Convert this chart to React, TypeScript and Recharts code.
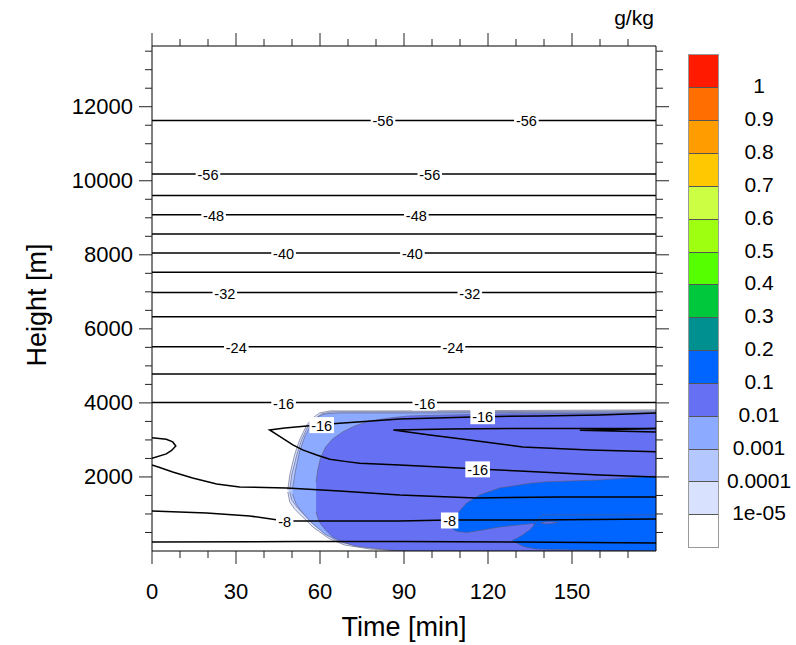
import React from "react";
import { ComposedChart, XAxis, YAxis, Area, Line, Scatter } from "recharts";

// axes
const TIME_TICKS = [0, 10, 20, 30, 40, 50, 60, 70, 80, 90, 100, 110, 120, 130, 140, 150, 160, 170];
const HEIGHT_TICKS = [500, 1000, 1500, 2000, 2500, 3000, 3500, 4000, 4500, 5000, 5500, 6000, 6500, 7000,
  7500, 8000, 8500, 9000, 9500, 10000, 10500, 11000, 11500, 12000, 12500, 13000, 13500];

// colour bar (top to bottom)
const LEVEL_COLORS = ["#ff1a00", "#ff6e00", "#ff9c00", "#ffc800", "#ccff44", "#9eff10", "#55ff00", "#00c83c",
  "#009090", "#0064ff", "#6670f2", "#8caaff", "#b4c8ff", "#d8e2ff", "#ffffff"];
const LEVEL_LABELS = ["1", "0.9", "0.8", "0.7", "0.6", "0.5", "0.4", "0.3", "0.2", "0.1", "0.01", "0.001", "0.0001", "1e-05"];

// mixing ratio fill regions: [time, lower height, upper height]
const fill1e5 = [[48.5, 1595, 1649], [49.2, 1324, 2054], [50.9, 1135, 2595], [52.7, 1000, 3000], [55.3, 811, 3406],
  [57.4, 649, 3595], [59.9, 514, 3730], [63.5, 324, 3784], [68.8, 162, 3784], [77.7, 54, 3784], [88.5, 0, 3784], [180, 0, 3811]];
const fill1e4 = [[49.2, 1595, 1649], [49.9, 1379, 2054], [51.7, 1189, 2595], [53.4, 1054, 3000], [55.9, 865, 3406],
  [58.1, 703, 3568], [60.6, 568, 3703], [64.2, 378, 3757], [70.6, 189, 3757], [81.3, 81, 3757], [92, 0, 3757], [180, 0, 3784]];
const fill1e3 = [[50.2, 1541, 1703], [51.3, 1297, 2189], [52.7, 1135, 2676], [54.5, 973, 3081], [56.7, 784, 3406],
  [59.2, 622, 3622], [61.7, 459, 3703], [67, 243, 3730], [74.2, 135, 3730], [84.9, 54, 3730], [93.8, 0, 3730], [180, 0, 3757]];
const fill1e2 = [[58.6, 1054, 1865], [59.2, 892, 2189], [60.2, 730, 2514], [62, 568, 2811], [64.5, 378, 3027],
  [68.1, 243, 3217], [72.4, 135, 3379], [77.7, 81, 3514], [84.9, 27, 3595], [92, 0, 3649], [106.3, 0, 3676],
  [124.2, 0, 3703], [180, 0, 3730]];
const fill1e1Upper = [[107, 622, 730], [108.1, 554, 919], [109.2, 527, 1027], [112.4, 500, 1297], [117, 554, 1514],
  [124.2, 649, 1703], [136, 743, 1838], [136.7, 703, 1838], [140.2, 595, 1865], [159.9, 568, 1919], [180, 568, 2027]];
const fill1e1Lower = [[128.8, 270, 297], [130.2, 216, 338], [132.4, 135, 432], [133.8, 100, 514], [135.3, 81, 595],
  [136.7, 62, 730], [137.4, 54, 838], [139.5, 46, 973], [159.9, 14, 973], [180, 8, 973]];
const fillSliver = [[138.8, 765, 765], [140.6, 730, 784], [142.7, 743, 789], [144.9, 770, 770]];

// temperature isolines
const flatIsotherms = [11630, 10180, 9600, 9080, 8560, 8050, 7530, 6980, 6330, 5520, 4780, 4010];
const tongueUpper = [[180, 3730], [159.9, 3676], [138.5, 3649], [114.5, 3622], [88.5, 3568], [64.5, 3440],
  [55.3, 3379], [47.4, 3320], [42, 3271], [45.6, 3099], [50.3, 2865], [53.8, 2730], [58.8, 2595], [63.5, 2479],
  [69.5, 2414], [74.2, 2370], [88.5, 2325], [102.7, 2271], [116.3, 2217], [131.3, 2162], [145.6, 2108],
  [159.9, 2054], [180, 2000]];
const tongueMid = [[180, 3311], [159.9, 3311], [131.3, 3311], [106.3, 3298], [86.2, 3271], [99.2, 3135],
  [113.5, 3000], [132.4, 2811], [156.3, 2730], [180, 2684]];
const tongueStub = [[180, 3311], [152.8, 3260], [180, 3217]];
const leftBubble = [[0, 3062], [5.1, 3019], [7.4, 2946], [8.5, 2838], [7, 2716], [5.1, 2622], [0, 2506]];
const isoLow1 = [[0, 2325], [2.75, 2257], [7.4, 2135], [14.5, 1973], [23.1, 1811], [31.3, 1730], [48.1, 1703],
  [67, 1622], [88.5, 1514], [115.6, 1433], [145.6, 1460], [180, 1460]];
const isoLow2 = [[0, 1081], [19.5, 1027], [34.9, 946], [47.4, 811], [88.5, 811], [106.3, 838], [136, 838], [180, 865]];
const isoLow3 = [[0, 243], [52.7, 257], [88.5, 257], [131.3, 243], [180, 216]];

const contourLabels = [
  { t: 82.5, h: 11630, text: "-56" }, { t: 133.7, h: 11630, text: "-56" },
  { t: 20, h: 10180, text: "-56" }, { t: 99.2, h: 10180, text: "-56" },
  { t: 22, h: 9080, text: "-48" }, { t: 94.4, h: 9080, text: "-48" },
  { t: 47, h: 8050, text: "-40" }, { t: 93, h: 8050, text: "-40" },
  { t: 26, h: 6980, text: "-32" }, { t: 113.5, h: 6980, text: "-32" },
  { t: 30.1, h: 5520, text: "-24" }, { t: 107.5, h: 5520, text: "-24" },
  { t: 47, h: 4010, text: "-16" }, { t: 97.4, h: 4010, text: "-16" },
  { t: 60.6, h: 3400, text: "-16" }, { t: 118.1, h: 3640, text: "-16" },
  { t: 116.3, h: 2205, text: "-16" },
  { t: 47.4, h: 811, text: "-8" }, { t: 106.3, h: 824, text: "-8" },
];

const FONT = "'Liberation Sans', Arial, Helvetica, sans-serif";
const band = (rows: number[][]) => rows.map(([t, lo, hi]) => ({ t, r: [lo, hi] }));
const pts = (rows: number[][]) => rows.map(([t, h]) => ({ t, h }));

const BottomTick = ({ x, y, payload }: any) => {
  const major = payload.value % 30 === 0;
  return (
    <g>
      <line x1={x} y1={y} x2={x} y2={y + (major ? 13 : 7)} stroke="#222" />
      {major && (
        <text x={x} y={y + 40} textAnchor="middle" dominantBaseline="central" fontSize={22} fontFamily={FONT} fill="#000">
          {payload.value}
        </text>
      )}
    </g>
  );
};
const TopTick = ({ x, y, payload }: any) => {
  const major = payload.value % 30 === 0;
  return <line x1={x} y1={y} x2={x} y2={y - (major ? 13 : 7)} stroke="#222" />;
};
const LeftTick = ({ x, y, payload }: any) => {
  const major = payload.value % 2000 === 0;
  return (
    <g>
      <line x1={x} y1={y} x2={x - (major ? 13 : 7)} y2={y} stroke="#222" />
      {major && (
        <text x={x - 19} y={y} textAnchor="end" dominantBaseline="central" fontSize={22} fontFamily={FONT} fill="#000">
          {payload.value}
        </text>
      )}
    </g>
  );
};
const RightTick = ({ x, y, payload }: any) => {
  const major = payload.value % 2000 === 0;
  return <line x1={x} y1={y} x2={x + (major ? 13 : 7)} y2={y} stroke="#222" />;
};

const ContourLabel = ({ cx, cy, payload }: any) => {
  const w = payload.text.length * 7.2 + 3;
  return (
    <g>
      <rect x={cx - w / 2} y={cy - 8} width={w} height={16} fill="#fff" />
      <text x={cx} y={cy + 1} textAnchor="middle" dominantBaseline="central" fontSize={14.5} fontFamily={FONT} fill="#000">
        {payload.text}
      </text>
    </g>
  );
};

const fills = [
  { data: fill1e5, color: LEVEL_COLORS[13] },
  { data: fill1e4, color: LEVEL_COLORS[12] },
  { data: fill1e3, color: LEVEL_COLORS[11] },
  { data: fill1e2, color: LEVEL_COLORS[10] },
  { data: fill1e1Upper, color: LEVEL_COLORS[9] },
  { data: fill1e1Lower, color: LEVEL_COLORS[9] },
  { data: fillSliver, color: LEVEL_COLORS[10] },
];

const curves = [tongueUpper, tongueMid, tongueStub, leftBubble, isoLow1, isoLow2, isoLow3];

const BAR_TOP = 53.5;
const BAR_BOX = 32.85;

export default function App() {
  return (
    <div style={{ position: "relative", width: 796, height: 645, fontFamily: FONT, background: "#fff" }}>
      <style>{`body{margin:0}`}</style>
      <ComposedChart width={796} height={645} margin={{ top: 26, right: 120, bottom: 34, left: 0 }}>
        <XAxis xAxisId="b" dataKey="t" type="number" domain={[0, 180]} ticks={TIME_TICKS} interval={0}
          orientation="bottom" height={60} tickSize={0} tickMargin={0} tickLine={false} tick={<BottomTick />}
          axisLine={{ stroke: "#000" }} allowDataOverflow />
        <XAxis xAxisId="top" dataKey="t" type="number" domain={[0, 180]} ticks={TIME_TICKS} interval={0}
          orientation="top" height={20} tickSize={0} tickMargin={0} tickLine={false} tick={<TopTick />}
          axisLine={{ stroke: "#000" }} allowDataOverflow />
        <YAxis yAxisId="l" type="number" domain={[0, 13640]} ticks={HEIGHT_TICKS} interval={0} width={152}
          tickSize={0} tickMargin={0} tickLine={false} tick={<LeftTick />} axisLine={{ stroke: "#000" }} allowDataOverflow />
        <YAxis yAxisId="r" orientation="right" type="number" domain={[0, 13640]} ticks={HEIGHT_TICKS} interval={0} width={20}
          tickSize={0} tickMargin={0} tickLine={false} tick={<RightTick />} axisLine={{ stroke: "#000" }} allowDataOverflow />

        {fills.map((f, i) => (
          <Area key={`fill-${i}`} data={band(f.data)} dataKey="r" xAxisId="b" yAxisId="l" type="linear"
            fill={f.color} fillOpacity={1} stroke="#5a5a7a" strokeWidth={0.6} dot={false} activeDot={false}
            isAnimationActive={false} />
        ))}

        {flatIsotherms.map((h, i) => (
          <Line key={`iso-${i}`} data={[{ t: 0, h }, { t: 180, h }]} dataKey="h" xAxisId="b" yAxisId="l"
            type="linear" stroke="#000" strokeWidth={1.5} dot={false} activeDot={false} isAnimationActive={false} />
        ))}
        {curves.map((c, i) => (
          <Line key={`curve-${i}`} data={pts(c)} dataKey="h" xAxisId="b" yAxisId="l" type="linear"
            stroke="#000" strokeWidth={1.5} dot={false} activeDot={false} isAnimationActive={false} />
        ))}

        <Scatter data={contourLabels} dataKey="h" xAxisId="b" yAxisId="l" shape={<ContourLabel />} isAnimationActive={false} />
      </ComposedChart>

      {/* axis titles */}
      <div style={{ position: "absolute", left: 254, width: 300, top: 612, textAlign: "center", fontSize: 27, lineHeight: "30px" }}>
        Time [min]
      </div>
      <div style={{ position: "absolute", left: 37, top: 305, transform: "translate(-50%, -50%) rotate(-90deg)",
        whiteSpace: "nowrap", fontSize: 27, lineHeight: "30px" }}>
        Height [m]
      </div>
      <div style={{ position: "absolute", left: 594, width: 80, top: 6, textAlign: "center", fontSize: 21, lineHeight: "24px" }}>
        g/kg
      </div>

      {/* colour bar */}
      <div style={{ position: "absolute", left: 688, top: BAR_TOP, width: 31, border: "1px solid #999", boxSizing: "border-box" }}>
        {LEVEL_COLORS.map((c, i) => (
          <div key={c} style={{ height: BAR_BOX, background: c, borderTop: i === 0 ? "none" : "1px solid #555", boxSizing: "border-box" }} />
        ))}
      </div>
      {LEVEL_LABELS.map((l, i) => (
        <div key={l} style={{ position: "absolute", left: 719, width: 80, top: BAR_TOP + (i + 1) * BAR_BOX - 12,
          textAlign: "center", fontSize: 21, lineHeight: "24px" }}>
          {l}
        </div>
      ))}
    </div>
  );
}
